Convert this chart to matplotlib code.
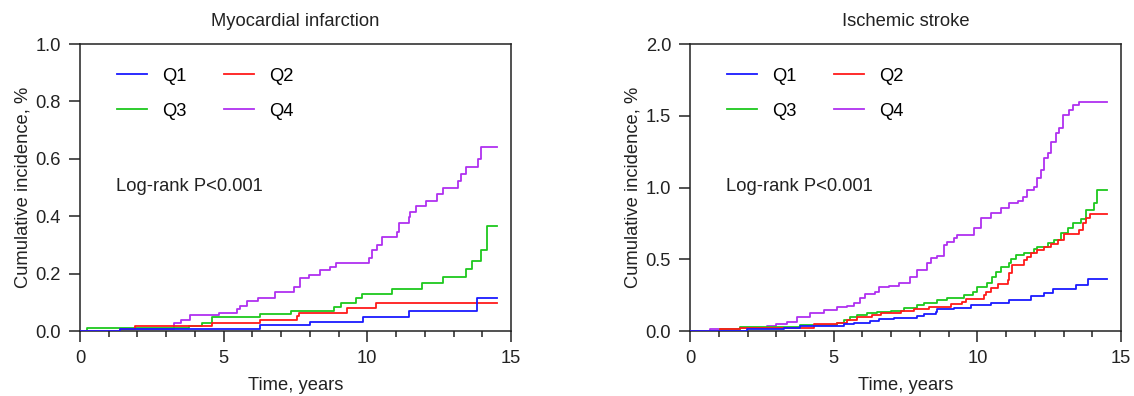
import matplotlib
matplotlib.use('Agg')
import matplotlib.pyplot as plt
from matplotlib.ticker import MultipleLocator

plt.rcParams['font.family'] = ['Liberation Sans', 'DejaVu Sans']

COLORS = {'Q1': '#1a1aff', 'Q2': '#ff1a1a', 'Q3': '#1ec81e', 'Q4': '#b030f0'}
END_T = 14.5

# Myocardial infarction: step times (years) and cumulative incidence (%)
mi_q1_t = [0, 1.4, 6.28, 8.02, 9.86, 11.45, 13.81]
mi_q1_y = [0, 0.008, 0.02, 0.033, 0.05, 0.07, 0.114]
mi_q2_t = [0, 1.4, 1.92, 4.6, 6.28, 7.56, 7.62, 9.3, 10.29]
mi_q2_y = [0, 0.006, 0.019, 0.027, 0.038, 0.052, 0.062, 0.079, 0.096]
mi_q3_t = [0, 0.25, 3.78, 4.24, 4.6, 6.28, 7.33, 8.84, 9.07, 9.59, 9.83,
           10.87, 11.92, 12.62, 13.43, 13.66, 13.95, 14.16]
mi_q3_y = [0, 0.009, 0.017, 0.027, 0.048, 0.059, 0.071, 0.085, 0.099, 0.114,
           0.128, 0.146, 0.166, 0.189, 0.215, 0.244, 0.282, 0.367]
mi_q4_t = [0, 1.4, 3.26, 3.5, 3.84, 4.83, 5.47, 5.58, 5.8, 6.2, 6.8, 7.44,
           7.67, 7.97, 8.37, 8.7, 8.9, 10.06, 10.17, 10.35, 10.52, 11.05,
           11.1, 11.45, 11.5, 11.69, 12.03, 12.44, 12.62, 13.14, 13.26,
           13.43, 13.84, 13.95]
mi_q4_y = [0, 0.008, 0.027, 0.038, 0.056, 0.064, 0.075, 0.087, 0.106, 0.116,
           0.137, 0.154, 0.183, 0.195, 0.213, 0.224, 0.238, 0.253, 0.282,
           0.30, 0.329, 0.346, 0.377, 0.398, 0.413, 0.437, 0.454, 0.477,
           0.50, 0.524, 0.547, 0.57, 0.60, 0.64]

# Ischemic stroke
is_q1_t = [0, 1.98, 3.26, 3.84, 5.35, 5.7, 6.28, 6.57, 7.09, 7.91, 8.14,
           8.55, 8.6, 9.19, 9.77, 10.47, 11.1, 11.86, 12.33, 12.62, 13.43,
           13.84]
is_q1_y = [0, 0.012, 0.023, 0.035, 0.046, 0.058, 0.07, 0.081, 0.093, 0.105,
           0.118, 0.135, 0.151, 0.163, 0.181, 0.197, 0.216, 0.244, 0.267,
           0.29, 0.32, 0.362]
is_q2_t = [0, 1.05, 1.74, 4.3, 5.12, 5.47, 5.81, 6.34, 6.63, 7.33, 7.79,
           8.31, 9.07, 9.48, 9.59, 10.23, 10.29, 10.47, 10.7, 11.05, 11.1,
           11.22, 11.63, 11.74, 11.86, 12.09, 12.33, 12.56, 12.79, 13.02,
           13.55, 13.66, 13.78, 13.93]
is_q2_y = [0, 0.016, 0.023, 0.046, 0.058, 0.077, 0.095, 0.111, 0.123, 0.139,
           0.151, 0.17, 0.188, 0.204, 0.22, 0.251, 0.274, 0.297, 0.328,
           0.355, 0.406, 0.46, 0.495, 0.518, 0.546, 0.564, 0.588, 0.606,
           0.634, 0.676, 0.704, 0.75, 0.785, 0.813]
is_q3_t = [0, 1.05, 1.74, 3.84, 5.12, 5.35, 5.58, 5.81, 6.16, 6.51, 6.98,
           7.44, 7.9, 8.14, 8.6, 8.95, 9.53, 9.83, 10.0, 10.35, 10.52, 10.64,
           10.81, 11.1, 11.16, 11.34, 11.63, 11.98, 12.09, 12.44, 12.67,
           12.9, 13.14, 13.31, 13.6, 13.78, 14.07, 14.16]
is_q3_y = [0, 0.012, 0.03, 0.042, 0.058, 0.077, 0.095, 0.111, 0.123, 0.13,
           0.139, 0.158, 0.181, 0.197, 0.216, 0.232, 0.251, 0.274, 0.309,
           0.332, 0.379, 0.413, 0.444, 0.472, 0.5, 0.527, 0.541, 0.569,
           0.588, 0.611, 0.634, 0.681, 0.715, 0.755, 0.778, 0.843, 0.894,
           0.983]
is_q4_t = [0, 0.7, 1.74, 2.67, 3.0, 3.37, 3.72, 4.19, 4.65, 5.12, 5.47, 5.7,
           5.93, 6.1, 6.45, 6.57, 6.92, 7.27, 7.67, 7.9, 8.26, 8.37, 8.6,
           8.84, 8.95, 9.19, 9.3, 9.88, 10.12, 10.47, 10.81, 11.1, 11.4,
           11.57, 11.74, 11.98, 12.09, 12.21, 12.33, 12.44, 12.56, 12.73,
           12.85, 12.97, 13.2, 13.31, 13.55]
is_q4_y = [0, 0.012, 0.023, 0.035, 0.049, 0.065, 0.10, 0.128, 0.146, 0.165,
           0.177, 0.193, 0.228, 0.256, 0.274, 0.309, 0.316, 0.332, 0.374,
           0.425, 0.472, 0.511, 0.523, 0.60, 0.618, 0.646, 0.669, 0.715,
           0.785, 0.82, 0.855, 0.89, 0.908, 0.936, 0.983, 1.006, 1.064,
           1.122, 1.203, 1.238, 1.319, 1.377, 1.412, 1.505, 1.54, 1.575,
           1.598]

panels = [
    ('Myocardial infarction', 1.0, 0.2,
     {'Q1': (mi_q1_t, mi_q1_y), 'Q2': (mi_q2_t, mi_q2_y),
      'Q3': (mi_q3_t, mi_q3_y), 'Q4': (mi_q4_t, mi_q4_y)}),
    ('Ischemic stroke', 2.0, 0.5,
     {'Q1': (is_q1_t, is_q1_y), 'Q2': (is_q2_t, is_q2_y),
      'Q3': (is_q3_t, is_q3_y), 'Q4': (is_q4_t, is_q4_y)}),
]

fig = plt.figure(figsize=(11.34, 3.96), dpi=100)
positions = [[0.0705, 0.1641, 0.3801, 0.7247], [0.6085, 0.1641, 0.3801, 0.7247]]
FS = 13.2

for pos, (title, ymax, ystep, series) in zip(positions, panels):
    ax = fig.add_axes(pos)
    lines = {}
    for z, name in enumerate(['Q4', 'Q3', 'Q2', 'Q1']):
        t, y = series[name]
        t = list(t) + [END_T]
        y = list(y) + [y[-1]]
        ln, = ax.step(t, y, where='post', color=COLORS[name], lw=1.3,
                      zorder=2 + z)
        lines[name] = ln
    order = ['Q1', 'Q3', 'Q2', 'Q4']
    ax.legend([lines[k] for k in order], order, ncol=2, frameon=False,
              loc='upper left', bbox_to_anchor=(0.086, 0.918),
              borderaxespad=0, borderpad=0, fontsize=FS,
              handlelength=1.64, handletextpad=0.82, columnspacing=2.05,
              labelspacing=1.0)
    ax.text(0.084, 0.505, 'Log-rank P<0.001', transform=ax.transAxes,
            ha='left', va='center', fontsize=FS, color='#222222')
    ax.set_xlim(0, 15)
    ax.set_ylim(0, ymax)
    ax.xaxis.set_major_locator(MultipleLocator(5))
    ax.xaxis.set_minor_locator(MultipleLocator(1))
    ax.yaxis.set_major_locator(MultipleLocator(ystep))
    ax.yaxis.set_major_formatter(plt.FormatStrFormatter('%.1f'))
    ax.tick_params(which='major', length=7.7, width=1.1, pad=6,
                   labelsize=FS, colors='#222222')
    ax.tick_params(which='minor', length=4, width=1.1, colors='#222222')
    for sp in ax.spines.values():
        sp.set_linewidth(1.1)
        sp.set_color('#222222')
    ax.set_title(title, fontsize=FS, pad=13, color='#222222')
    ax.set_xlabel('Time, years', fontsize=FS, labelpad=7, color='#222222')
    ax.set_ylabel('Cumulative incidence, %', fontsize=FS, labelpad=3,
                  color='#222222')

fig.savefig('out.png', dpi=100)
